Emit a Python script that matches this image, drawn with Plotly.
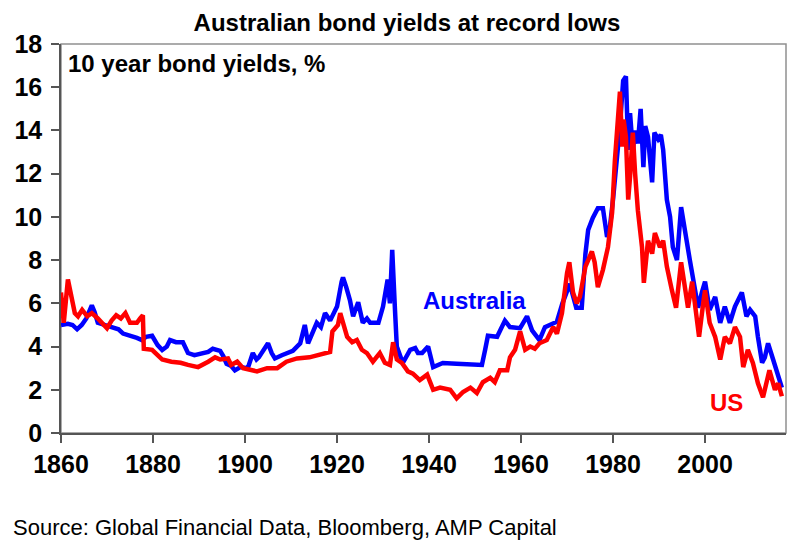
import plotly.graph_objects as go

# ---- data ----
au_years = [1860.0, 1861.5, 1862.5, 1863.5, 1864.5, 1865.5, 1866.7, 1867.3, 1868.0, 1869.5,
            1871.0, 1872.5, 1873.5, 1875.4, 1876.5, 1877.6, 1878.5, 1879.8, 1881.0, 1882.0,
            1883.0, 1883.7, 1885.0, 1886.5, 1887.6, 1889.0, 1890.5, 1892.0, 1893.0, 1894.6,
            1895.3, 1896.0, 1897.0, 1897.8, 1899.0, 1900.6, 1901.7, 1902.5, 1903.0, 1904.0,
            1905.0, 1905.8, 1906.5, 1908.0, 1910.4, 1912.0, 1913.0, 1913.7, 1914.5, 1915.6,
            1916.5, 1917.4, 1918.5, 1920.0, 1921.0, 1921.3, 1922.0, 1922.8, 1923.5, 1924.6,
            1925.6, 1926.5, 1927.2, 1929.0, 1930.0, 1931.0, 1931.5, 1932.0, 1932.6, 1933.0,
            1934.3, 1935.9, 1937.0, 1937.6, 1938.5, 1939.8, 1940.9, 1943.0, 1946.0, 1949.0,
            1951.5, 1952.2, 1952.8, 1954.8, 1956.5, 1957.6, 1959.8, 1961.3, 1962.4, 1964.0,
            1965.2, 1967.8, 1969.0, 1970.6, 1972.0, 1973.2, 1974.0, 1974.6, 1975.6, 1976.7,
            1977.8, 1978.7, 1979.3, 1980.0, 1980.9, 1981.5, 1982.2, 1982.8, 1983.3, 1983.7,
            1984.3, 1984.8, 1985.4, 1986.0, 1986.6, 1987.0, 1987.6, 1988.5, 1989.0, 1989.8,
            1990.4, 1990.9, 1991.7, 1992.4, 1993.0, 1993.9, 1994.8, 1995.2, 1996.0, 1996.7,
            1997.4, 1998.5, 1999.3, 2000.0, 2001.0, 2002.2, 2003.3, 2004.3, 2005.4, 2006.5,
            2008.0, 2009.0, 2009.8, 2010.9, 2011.5, 2012.4, 2013.0, 2013.7, 2014.8, 2015.6,
            2016.3, 2016.7]
au_yield = [5.0, 5.05, 5.0, 4.8, 5.0, 5.3, 5.9, 5.6, 5.1, 5.0,
            4.85, 4.8, 4.6, 4.5, 4.4, 4.3, 4.45, 4.5, 4.07, 3.84,
            4.0, 4.3, 4.2, 4.2, 3.7, 3.6, 3.65, 3.75, 3.9, 3.8,
            3.55, 3.2, 3.1, 2.9, 3.05, 3.0, 3.7, 3.4, 3.5, 3.8,
            4.15, 3.7, 3.45, 3.6, 3.8, 4.15, 5.0, 4.15, 4.6, 5.1,
            4.9, 5.55, 5.2, 5.85, 7.0, 7.2, 6.75, 6.15, 5.4, 6.05,
            5.1, 5.3, 5.1, 5.1, 5.85, 7.1, 6.0, 8.47, 5.7, 4.0,
            3.24, 3.85, 3.93, 3.7, 3.7, 4.0, 3.05, 3.24, 3.2, 3.2,
            3.15, 3.85, 4.5, 4.45, 5.2, 4.9, 4.85, 5.4, 4.75, 4.3,
            4.9, 5.15, 6.0, 6.9, 5.8, 5.8, 8.3, 9.4, 9.95, 10.4,
            10.4, 9.07, 9.5, 10.8, 12.6, 14.2, 16.3, 16.5, 13.1, 14.8,
            13.1, 14.0, 13.4, 15.0, 12.3, 14.2, 13.7, 11.6, 13.9, 13.6,
            13.8, 13.1, 10.8, 10.0, 8.6, 8.0, 10.45, 9.85, 8.9, 8.0,
            7.1, 5.8, 6.5, 7.0, 5.7, 6.3, 5.1, 5.85, 5.1, 5.85,
            6.5, 5.4, 5.7, 5.4, 4.45, 3.25, 3.5, 4.15, 3.4, 2.9,
            2.45, 2.1]

us_years = [1860.0, 1860.6, 1861.5, 1862.4, 1863.0, 1863.7, 1864.6, 1865.7, 1866.7, 1868.0,
            1869.5, 1870.0, 1871.0, 1872.0, 1873.0, 1874.0, 1875.0, 1876.5, 1877.2, 1877.8,
            1878.0, 1879.8, 1881.0, 1882.0, 1884.0, 1886.0, 1887.6, 1889.8, 1892.0, 1893.5,
            1894.6, 1896.3, 1897.0, 1898.3, 1899.6, 1902.6, 1904.8, 1907.0, 1909.0, 1911.3,
            1914.0, 1917.0, 1918.5, 1919.0, 1920.2, 1920.7, 1921.3, 1922.2, 1923.3, 1924.3,
            1925.4, 1926.5, 1927.8, 1929.3, 1930.4, 1931.5, 1932.2, 1933.0, 1934.1, 1935.4,
            1936.5, 1937.4, 1938.0, 1939.6, 1940.9, 1942.4, 1944.6, 1946.0, 1947.4, 1949.0,
            1950.4, 1951.7, 1953.3, 1954.3, 1955.4, 1957.0, 1957.6, 1958.7, 1959.8, 1960.9,
            1962.0, 1963.0, 1964.0, 1965.6, 1967.0, 1967.8, 1968.9, 1970.0, 1970.5, 1971.3,
            1972.1, 1972.8, 1974.0, 1975.4, 1976.0, 1976.7, 1977.8, 1978.9, 1979.8, 1980.4,
            1981.0, 1981.5, 1982.0, 1982.3, 1982.8, 1983.3, 1983.7, 1984.3, 1984.8, 1985.4,
            1986.3, 1986.7, 1987.6, 1988.5, 1989.1, 1990.2, 1990.9, 1991.7, 1992.8, 1993.7,
            1994.8, 1995.7, 1996.3, 1997.2, 1998.2, 1998.7, 1999.6, 2000.0, 2001.0, 2002.2,
            2003.3, 2004.3, 2005.4, 2006.5, 2007.6, 2008.3, 2009.3, 2010.4, 2011.5, 2012.6,
            2014.0, 2015.2, 2015.9, 2016.7]
us_yield = [6.5, 5.1, 7.1, 6.15, 5.55, 5.4, 5.7, 5.4, 5.55, 5.3,
            5.0, 4.85, 5.2, 5.45, 5.3, 5.55, 5.1, 5.1, 5.3, 5.45,
            3.9, 3.85, 3.6, 3.4, 3.3, 3.25, 3.15, 3.05, 3.3, 3.5,
            3.4, 3.45, 3.15, 3.3, 3.0, 2.85, 3.0, 3.0, 3.3, 3.45,
            3.5, 3.7, 3.75, 4.7, 5.0, 5.55, 5.1, 4.45, 4.2, 4.3,
            3.85, 3.7, 3.3, 3.7, 3.25, 3.15, 4.2, 3.4, 3.24, 2.85,
            2.75, 2.6, 2.45, 2.7, 2.0, 2.1, 2.0, 1.6, 1.9, 2.1,
            1.85, 2.35, 2.55, 2.35, 2.9, 2.9, 3.5, 3.85, 4.7, 3.85,
            4.0, 3.9, 4.15, 4.3, 4.9, 4.6, 5.55, 7.4, 7.9, 6.5,
            6.0, 6.3, 7.7, 8.4, 7.9, 6.75, 7.55, 8.6, 10.2, 12.6,
            14.2, 15.8, 13.25, 14.5, 13.7, 10.8, 11.85, 13.9, 12.0, 10.3,
            8.6, 6.95, 8.9, 8.3, 9.25, 8.6, 8.9, 7.7, 6.6, 5.8,
            7.9, 6.75, 5.8, 7.0, 5.5, 4.45, 6.0, 6.6, 5.1, 4.45,
            3.4, 4.45, 4.15, 4.9, 4.45, 3.05, 3.85, 3.24, 2.3, 1.65,
            2.9, 2.0, 2.3, 1.7]

x_ticks = [1860, 1880, 1900, 1920, 1940, 1960, 1980, 2000]
y_ticks = [0, 2, 4, 6, 8, 10, 12, 14, 16, 18]

title_text = "Australian bond yields at record lows"
subtitle_text = "10 year bond yields, %"
source_text = "Source: Global Financial Data, Bloomberg, AMP Capital"

FONT = "Liberation Sans, Arial, Helvetica, sans-serif"

fig = go.Figure()
fig.add_trace(go.Scatter(x=au_years, y=au_yield, mode="lines",
                         line=dict(color="#0000FF", width=4.5), name="Australia"))
fig.add_trace(go.Scatter(x=us_years, y=us_yield, mode="lines",
                         line=dict(color="#FF0000", width=4.5), name="US"))

W, H = 800, 555
L, R, T, B = 61, 786, 44, 433


def px_x(px):
    return (px - L) / (R - L)


def px_y(py):
    return (B - py) / (B - T)


fig.update_layout(
    width=W, height=H,
    margin=dict(l=L, r=W - R, t=T, b=H - B, pad=0),
    paper_bgcolor="white", plot_bgcolor="white",
    showlegend=False,
    font=dict(family=FONT, color="black"),
    title=dict(text="<b>" + title_text + "</b>", x=407 / W, y=1 - 23 / H,
               xanchor="center", yanchor="middle", font=dict(size=24, family=FONT)),
)
fig.update_xaxes(range=[1860, 2017.6], tickvals=x_ticks, ticks="outside", ticklen=8,
                 tickwidth=1.5, tickcolor="#555555", showgrid=False, zeroline=False,
                 showline=True, linecolor="#555555", linewidth=1.5,
                 tickfont=dict(size=25, family=FONT, weight="bold"))
fig.update_yaxes(range=[0, 18], tickvals=y_ticks, ticks="outside", ticklen=8,
                 tickwidth=1.5, tickcolor="#555555", showgrid=False, zeroline=False,
                 showline=True, linecolor="#555555", linewidth=1.5, ticklabelstandoff=4,
                 tickfont=dict(size=25, family=FONT, weight="bold"))

# frame (top/right)
fig.add_shape(type="rect", xref="paper", yref="paper", x0=0, x1=1, y0=0, y1=1,
              line=dict(color="#909090", width=1.5), layer="below")

fig.add_annotation(text="<b>" + subtitle_text + "</b>", xref="paper", yref="paper",
                   x=px_x(66), y=px_y(64), xanchor="left", yanchor="middle",
                   showarrow=False, font=dict(size=24, family=FONT, color="black"))
fig.add_annotation(text="<b>Australia</b>", x=1949.8, y=6.15, xanchor="center",
                   yanchor="middle", showarrow=False,
                   font=dict(size=24, family=FONT, color="#0000FF"))
fig.add_annotation(text="<b>US</b>", x=2004.6, y=1.39, xanchor="center",
                   yanchor="middle", showarrow=False,
                   font=dict(size=24, family=FONT, color="#FF0000"))
fig.add_annotation(text=source_text, xref="paper", yref="paper",
                   x=px_x(11), y=px_y(527), xanchor="left", yanchor="middle",
                   showarrow=False, font=dict(size=22, family=FONT, color="black"))

fig.write_html("out.html")
